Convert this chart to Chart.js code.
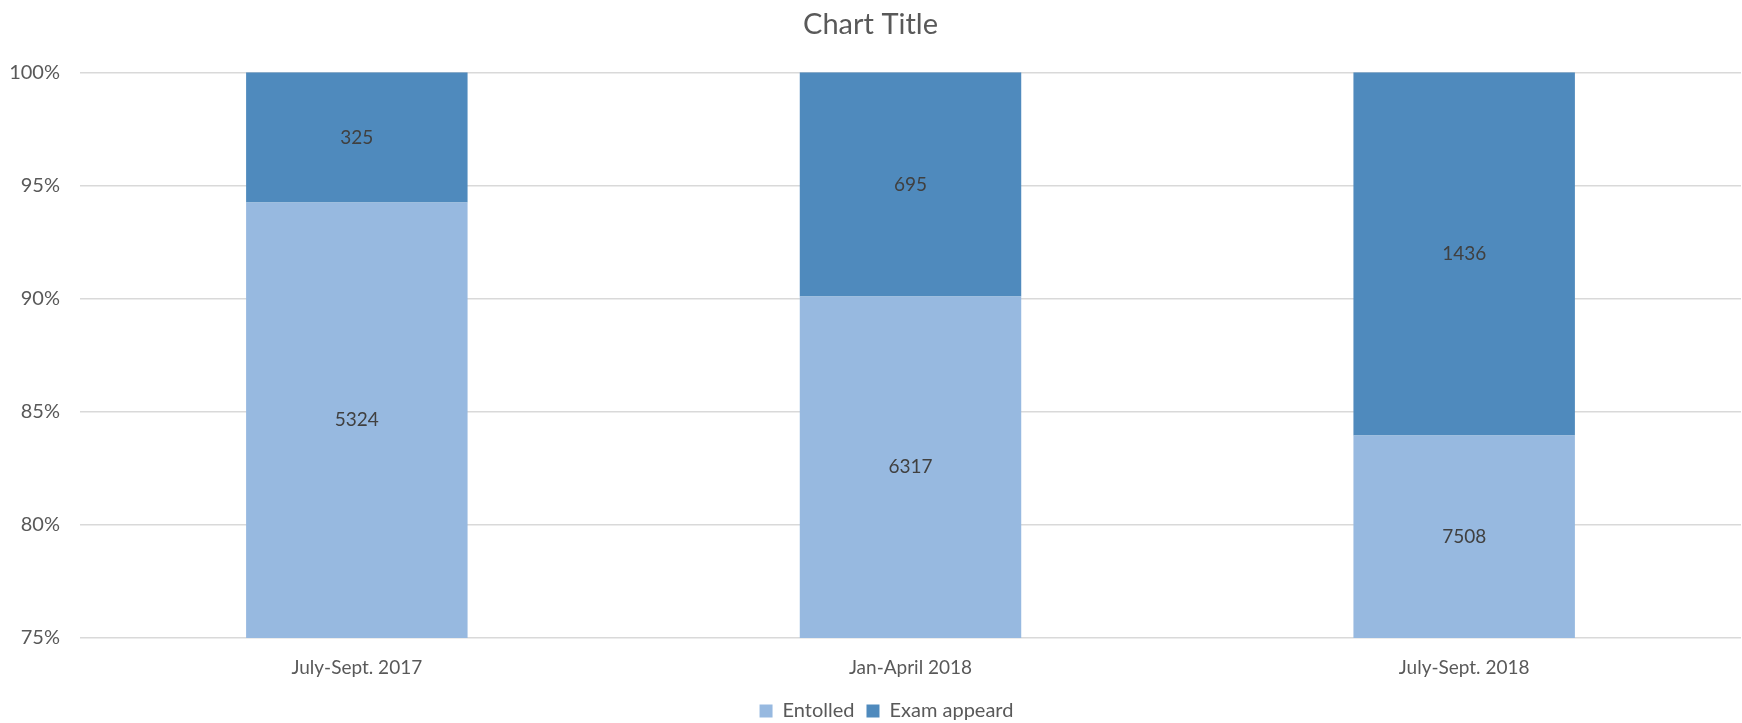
<!DOCTYPE html>
<html>
<head>
<meta charset="utf-8">
<script src="https://cdn.jsdelivr.net/npm/chart.js@4.4.0/dist/chart.umd.min.js"></script>
<style>
  html, body { margin: 0; padding: 0; background: #fff; }
  #wrap { width: 1742px; height: 723px; }
</style>
</head>
<body>
<div id="wrap"><canvas id="cursosChart" width="1742" height="723"></canvas></div>
<script>
// --- datos ---
const periodos = ['July-Sept. 2017', 'Jan-April 2018', 'July-Sept. 2018'];
const entolled = [5324, 6317, 7508];
const examAppeard = [325, 695, 1436];
const yTicks = [75, 80, 85, 90, 95, 100];

// porcentajes para el apilado 100%
const totales = periodos.map((_, i) => entolled[i] + examAppeard[i]);
const pctEntolled = entolled.map((v, i) => v / totales[i] * 100);
const pctExam = examAppeard.map((v, i) => v / totales[i] * 100);

const FUENTE = 'Lato, "Open Sans", sans-serif';

// etiquetas en el centro de la parte visible de cada segmento
const etiquetasPlugin = {
    id: 'etiquetas',
    afterLayout(chart) {
        // la leyenda original está un poco desplazada a la derecha
        if (chart.legend) {
            chart.legend.left += 16;
            chart.legend.right += 16;
        }
    },
    afterDatasetsDraw(chart) {
        const { ctx, chartArea } = chart;
        ctx.save();
        ctx.font = '19px ' + FUENTE;
        ctx.fillStyle = '#404040';
        ctx.textAlign = 'center';
        ctx.textBaseline = 'middle';
        chart.data.datasets.forEach((ds, di) => {
            const meta = chart.getDatasetMeta(di);
            meta.data.forEach((bar, i) => {
                const top = Math.max(Math.min(bar.y, bar.base), chartArea.top);
                const bottom = Math.min(Math.max(bar.y, bar.base), chartArea.bottom);
                if (bottom <= top) return;
                ctx.fillText(String(ds.raw[i]), bar.x, (top + bottom) / 2);
            });
        });
        ctx.restore();
    }
};

new Chart(document.getElementById('cursosChart').getContext('2d'), {
    type: 'bar',
    data: {
        labels: periodos,
        datasets: [
            {
                label: 'Entolled',
                data: pctEntolled,
                raw: entolled,
                backgroundColor: '#97B9E0',
                barPercentage: 0.4,
                categoryPercentage: 1
            },
            {
                label: 'Exam appeard',
                data: pctExam,
                raw: examAppeard,
                backgroundColor: '#4F8ABD',
                barPercentage: 0.4,
                categoryPercentage: 1
            }
        ]
    },
    options: {
        responsive: false,
        animation: false,
        layout: { padding: { top: 0, right: 1, left: 0, bottom: -8 } },
        scales: {
            x: {
                stacked: true,
                afterFit: (scale) => { scale.height = 51; },
                grid: { display: false },
                border: { display: false },
                ticks: { color: '#595959', font: { family: FUENTE, size: 19 }, padding: 10.5 }
            },
            y: {
                stacked: true,
                min: 75,
                max: 100,
                afterBuildTicks: (scale) => { scale.ticks = yTicks.map(v => ({ value: v })); },
                afterFit: (scale) => { scale.width = 80; },
                grid: { color: '#D9D9D9', lineWidth: 1.5, drawTicks: false },
                border: { display: false },
                ticks: {
                    color: '#595959',
                    font: { family: FUENTE, size: 20 },
                    padding: 20,
                    callback: (v) => v + '%'
                }
            }
        },
        plugins: {
            title: {
                display: true,
                text: 'Chart Title',
                color: '#595959',
                font: { family: FUENTE, size: 29, weight: 'normal' },
                padding: { top: 7, bottom: 30.5 }
            },
            legend: {
                position: 'bottom',
                labels: {
                    color: '#595959',
                    font: { family: FUENTE, size: 20 },
                    boxWidth: 13,
                    boxHeight: 13,
                    padding: 12
                }
            },
            tooltip: { enabled: false }
        }
    },
    plugins: [etiquetasPlugin]
});
</script>
</body>
</html>
